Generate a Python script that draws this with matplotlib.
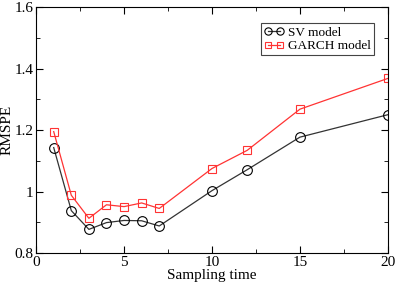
import matplotlib.pyplot as plt
from matplotlib.ticker import MultipleLocator

plt.rcParams['font.family'] = ['Liberation Serif', 'DejaVu Serif']

# Datos
sampling = [1, 2, 3, 4, 5, 6, 7, 10, 12, 15, 20]
sv = [1.143, 0.938, 0.877, 0.899, 0.906, 0.905, 0.888, 1.003, 1.071, 1.177, 1.250]
garch = [1.195, 0.988, 0.913, 0.957, 0.951, 0.963, 0.945, 1.075, 1.134, 1.268, 1.368]

fig = plt.figure(figsize=(3.97, 2.84), dpi=100)
ax = fig.add_axes([0.091, 0.109, 0.886, 0.866])

ax.plot(sampling, sv, color='#333333', lw=0.9, marker='o', ms=7,
        mfc='none', mec='black', mew=0.8, label='SV model')
ax.plot(sampling, garch, color='#ff3333', lw=0.9, marker='s', ms=6,
        mfc='none', mec='#ff3333', mew=0.8, label='GARCH model')

ax.set_xlim(0, 20)
ax.set_ylim(0.8, 1.6)
ax.xaxis.set_major_locator(MultipleLocator(5))
ax.xaxis.set_minor_locator(MultipleLocator(2.5))
ax.yaxis.set_minor_locator(MultipleLocator(0.1))
ax.set_yticks([0.8, 1.0, 1.2, 1.4, 1.6])
ax.set_yticklabels(['0.8', '1', '1.2', '1.4', '1.6'])
ax.tick_params(which='both', direction='in', top=True, right=True, labelsize=11, pad=2)
ax.tick_params(which='major', length=5)
ax.tick_params(which='minor', length=3)

ax.set_xlabel('Sampling time', fontsize=11, labelpad=0)
ax.set_ylabel('RMSPE', fontsize=11)
ax.yaxis.set_label_coords(-0.065, 0.5)

leg = ax.legend(loc='upper right', bbox_to_anchor=(0.96, 0.935), numpoints=2,
                fancybox=False, framealpha=1, edgecolor='#444444', fontsize=9.5,
                handlelength=1.5, handletextpad=0.3, borderpad=0.25, labelspacing=0.1,
                borderaxespad=0, markerscale=0.75)
leg.get_frame().set_linewidth(0.8)

fig.savefig('out.png')
